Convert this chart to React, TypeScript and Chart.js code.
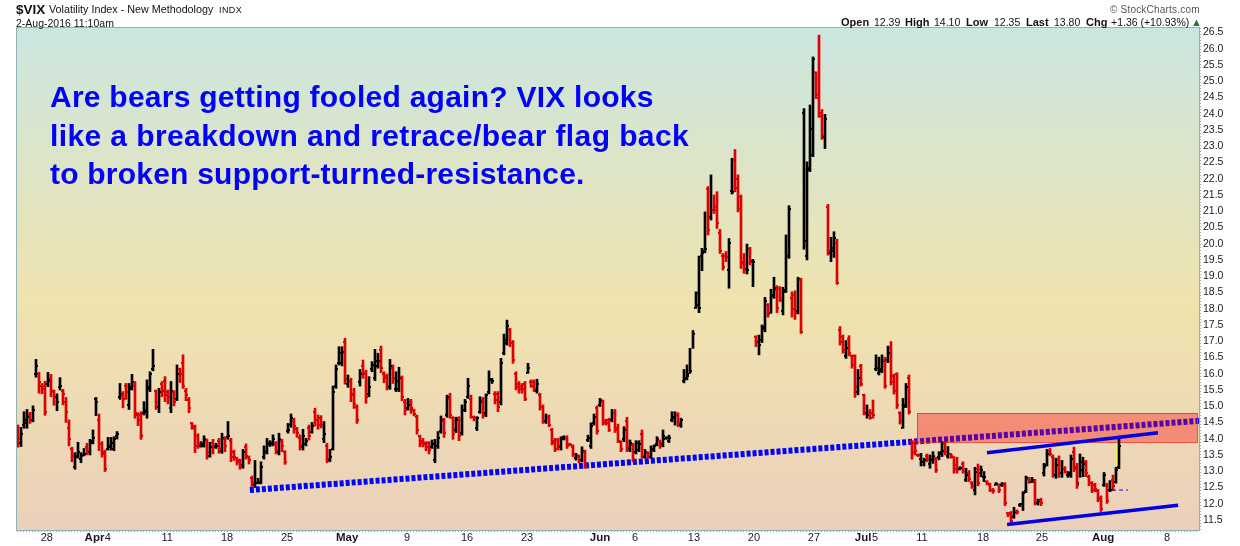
import React, { useEffect, useRef } from "react";
import { Chart, registerables } from "chart.js";

Chart.register(...registerables);

// Hourly-style OHLC bars of $VIX (about four bars per session).
const highs = [
14.39,14.32,14.80,14.87,14.78,14.98,16.41,16.01,15.67,15.74,
16.01,15.95,15.47,15.35,15.85,15.49,15.24,14.55,13.71,13.54,
13.86,13.54,13.67,13.83,13.95,14.24,15.24,14.73,13.88,13.62,
14.01,14.01,14.03,14.19,15.67,15.42,15.67,15.67,15.95,15.73,
14.77,14.80,15.11,15.78,16.03,16.72,15.47,15.52,15.73,15.88,
15.47,15.73,15.45,16.24,16.14,16.55,15.52,15.24,14.47,14.39,
14.12,13.88,14.06,13.96,13.86,13.95,13.83,13.98,14.14,14.03,
14.50,13.98,13.62,13.40,13.34,13.64,13.81,13.44,12.82,13.30,
12.75,13.26,13.75,13.98,13.91,14.09,13.88,14.14,13.95,13.60,
14.44,14.73,14.60,14.32,14.09,14.26,13.98,14.39,14.47,14.91,
14.70,14.68,14.50,13.83,13.64,15.59,16.24,16.80,16.80,17.06,
15.93,15.83,15.52,15.01,16.10,16.39,16.08,15.88,16.34,16.72,
16.60,16.82,16.03,15.96,16.41,16.24,16.03,16.17,15.90,15.18,
15.21,15.18,14.88,14.70,14.08,13.98,13.88,13.88,13.93,13.95,
14.19,14.67,14.60,15.31,15.37,14.65,14.63,14.65,15.01,15.18,
15.83,15.31,14.67,14.65,15.26,15.24,15.35,16.06,15.83,15.42,
15.42,16.44,17.19,17.62,17.37,16.99,16.03,15.73,15.67,15.73,
16.29,15.78,15.78,15.80,15.37,15.01,14.73,14.70,14.29,13.98,
13.98,14.03,14.06,14.06,13.83,13.78,13.52,13.47,13.72,13.62,
14.08,14.46,14.73,14.98,15.21,15.16,14.57,14.60,14.87,14.87,
14.42,13.91,14.34,14.63,13.93,13.83,13.91,13.91,14.24,13.64,
13.57,13.75,13.78,14.03,13.93,14.24,14.03,14.08,
14.80,14.80,14.77,14.60,16.10,16.24,16.75,17.30,18.49,19.59,
19.83,20.95,21.73,22.09,21.47,21.57,20.41,19.67,19.73,20.13,
22.60,22.87,22.09,21.47,19.67,19.96,19.86,19.49,17.14,17.16,
17.47,18.32,18.13,18.57,18.94,18.68,18.65,18.63,20.24,21.14,
18.49,18.52,18.94,18.91,24.13,22.49,24.24,25.72,25.26,26.39,
24.10,23.95,21.18,20.17,20.34,20.11,17.42,17.16,16.99,17.14,
16.55,16.55,16.10,16.26,15.34,15.01,14.87,15.16,16.55,16.48,
16.55,16.48,16.82,16.96,15.96,16.00,14.80,15.21,15.67,15.93,
13.91,13.93,13.50,13.52,13.37,13.50,13.47,13.57,13.40,13.57,
13.88,13.88,13.73,13.52,13.42,13.40,13.11,13.26,13.06,12.99,
12.65,13.09,13.19,13.13,12.96,12.68,12.60,12.44,12.62,12.58,
12.62,12.62,11.70,11.73,11.86,11.78,11.98,12.34,12.82,12.78,
12.78,12.72,12.11,12.14,13.21,13.64,13.67,13.47,13.37,13.44,
13.30,13.11,12.96,13.47,13.71,13.21,13.50,13.40,13.30,12.85,
12.65,12.60,12.41,12.21,12.93,12.60,12.68,12.85,13.09,14.05,
];

const lows = [
13.71,13.73,14.29,14.29,14.44,14.49,15.86,15.37,15.35,14.69,
15.57,15.26,15.00,14.83,15.47,15.01,14.47,13.75,13.26,13.03,
13.37,13.23,13.44,13.47,13.47,13.81,14.68,13.60,13.40,12.96,
13.62,13.62,13.60,13.96,15.18,14.92,15.18,14.87,15.47,14.60,
14.37,13.95,14.70,14.60,15.42,16.06,14.87,14.77,15.26,15.11,
15.04,14.77,14.98,15.14,15.70,15.52,15.14,14.77,14.26,13.54,
13.67,13.71,13.71,13.34,13.40,13.50,13.67,13.52,13.52,13.57,
13.95,13.26,13.30,13.16,13.03,13.06,13.34,13.19,12.50,12.47,
12.58,12.58,13.34,13.50,13.73,13.75,13.50,13.47,13.57,13.18,
14.14,14.32,14.14,14.01,13.62,13.62,13.75,13.93,14.14,14.36,
14.26,14.30,13.85,13.23,13.26,13.62,15.52,16.24,16.21,15.65,
15.55,15.11,14.90,14.44,15.59,15.83,15.06,15.26,16.03,15.76,
16.14,16.00,15.69,15.47,15.49,15.67,15.42,15.42,15.14,14.70,
14.85,14.75,14.67,14.11,13.72,13.72,13.60,13.50,13.67,13.23,
13.67,14.14,14.01,14.63,14.60,13.95,14.16,13.91,14.08,14.80,
15.21,14.60,14.52,14.22,14.75,14.60,14.65,15.35,15.67,15.04,
14.80,15.01,16.55,16.85,16.80,16.29,15.47,15.37,15.37,15.14,
15.98,15.55,15.42,15.37,14.85,14.44,14.44,14.34,13.78,13.57,
13.62,13.62,13.93,13.67,13.75,13.42,13.31,13.23,13.26,13.06,
13.88,13.67,14.39,14.11,14.96,14.39,14.39,14.19,14.49,14.16,
13.85,13.57,13.88,13.57,13.57,13.26,13.50,13.57,13.37,13.37,
13.37,13.37,13.57,13.75,13.67,13.72,13.95,13.85,
14.49,14.39,14.34,14.32,15.69,15.78,15.98,16.75,17.98,17.85,
19.14,19.69,20.24,20.70,20.90,20.44,19.67,19.16,19.42,18.60,
21.50,21.57,20.95,19.21,19.06,19.04,19.32,18.65,16.80,16.55,
16.93,17.26,17.71,17.83,18.29,17.85,18.19,17.78,18.47,19.52,
17.71,17.64,17.81,17.21,19.80,19.47,22.19,22.65,24.44,23.86,
23.18,22.90,19.62,19.42,19.55,18.72,16.85,16.60,16.44,16.52,
16.14,15.24,15.32,15.59,14.70,14.60,14.57,14.60,16.06,15.93,
16.00,15.52,16.31,15.62,15.34,14.90,14.42,14.29,14.93,14.73,
13.34,13.47,13.42,13.13,13.13,13.26,13.06,13.21,12.93,13.32,
13.42,13.47,13.37,13.37,12.91,12.91,13.01,12.91,12.65,12.65,
12.44,12.24,12.52,12.80,12.65,12.55,12.34,12.29,12.54,12.31,
12.50,11.91,11.57,11.39,11.52,11.65,11.88,11.76,12.31,12.60,
12.62,11.93,11.93,11.91,12.82,13.13,13.44,12.78,12.75,12.78,
12.78,12.91,12.78,12.78,12.96,12.44,12.78,12.80,12.80,12.52,
12.31,12.34,12.03,11.73,12.50,11.98,12.34,12.37,12.60,13.05,
];

const closes = [
13.95,14.10,14.55,14.65,14.52,14.85,16.20,15.70,15.50,14.80,
15.75,15.45,15.25,15.10,15.60,15.35,14.80,13.95,13.45,13.40,
13.55,13.45,13.50,13.60,13.85,14.00,15.10,13.80,13.50,13.05,
13.75,13.85,13.95,14.10,15.35,15.20,15.40,15.50,15.70,14.75,
14.55,14.05,14.85,15.55,15.95,16.20,15.10,15.40,15.45,15.30,
15.25,15.45,15.10,15.95,15.95,15.60,15.30,14.90,14.35,13.75,
13.80,13.80,13.95,13.55,13.70,13.75,13.75,13.65,14.00,13.75,
14.05,13.40,13.40,13.30,13.10,13.55,13.45,13.30,12.60,12.60,
12.65,13.10,13.60,13.85,13.85,13.95,13.60,13.95,13.75,13.25,
14.25,14.60,14.35,14.15,13.75,14.05,13.90,14.05,14.35,14.55,
14.40,14.40,14.10,13.35,13.40,15.40,16.10,16.60,16.65,15.80,
15.75,15.30,15.05,14.55,15.95,15.95,15.25,15.55,16.25,16.35,
16.35,16.15,15.85,15.60,16.20,15.85,15.75,15.85,15.25,14.85,
15.00,14.90,14.72,14.25,13.85,13.80,13.72,13.62,13.80,13.75,
14.00,14.55,14.15,15.25,14.70,14.10,14.55,14.05,14.85,15.10,
15.60,14.65,14.60,14.60,15.10,14.70,15.30,15.80,15.75,15.15,
14.95,16.30,17.00,17.45,16.90,16.40,15.55,15.50,15.50,15.20,
16.15,15.60,15.50,15.65,14.95,14.50,14.65,14.40,13.85,13.65,
13.75,13.95,14.00,13.75,13.78,13.50,13.45,13.30,13.60,13.10,
14.00,14.35,14.65,14.20,15.15,14.45,14.45,14.25,14.75,14.25,
13.90,13.65,14.25,13.70,13.85,13.35,13.85,13.80,13.45,13.55,
13.42,13.65,13.75,13.95,13.75,14.05,14.00,14.00,
14.65,14.70,14.45,14.55,15.80,15.95,16.05,17.20,18.45,18.00,
19.75,19.80,20.40,21.00,21.10,20.60,19.75,19.25,19.55,20.00,
21.55,21.70,21.05,19.35,19.15,19.15,19.40,19.40,16.95,16.85,
17.35,18.20,17.80,18.35,18.60,18.00,18.25,18.50,19.60,21.05,
17.95,17.85,18.90,17.25,20.05,22.25,23.50,25.65,24.55,24.00,
23.30,23.80,19.75,19.85,20.15,18.75,16.95,16.70,16.75,16.60,
16.25,15.55,15.85,15.65,14.75,14.70,14.62,14.70,16.15,16.05,
16.35,15.60,16.60,15.70,15.45,15.00,14.50,14.95,15.55,14.80,
13.55,13.60,13.48,13.25,13.30,13.35,13.35,13.45,13.00,13.50,
13.60,13.55,13.50,13.45,13.05,13.00,13.08,12.95,12.85,12.72,
12.50,12.95,12.60,13.00,12.80,12.60,12.40,12.35,12.58,12.40,
12.58,12.00,11.65,11.45,11.70,11.70,11.95,12.30,12.75,12.65,
12.70,12.00,12.05,12.00,13.10,13.50,13.50,12.85,13.15,12.90,
13.05,12.95,12.90,13.35,13.05,12.55,13.25,13.20,12.90,12.60,
12.40,12.42,12.10,11.80,12.85,12.05,12.40,12.50,13.00,13.75,
];

const opens = [
14.20,13.85,14.40,14.45,14.70,14.55,15.95,15.95,15.60,15.60,
15.65,15.80,15.40,15.25,15.55,15.45,15.10,14.30,13.65,13.10,
13.45,13.35,13.48,13.70,13.55,13.90,15.20,14.55,13.80,13.55,
13.65,13.70,13.65,14.05,15.25,15.30,15.60,15.00,15.55,15.60,
14.70,14.70,14.75,14.80,15.50,16.10,15.45,14.95,15.65,15.75,
15.40,14.90,15.40,15.20,16.10,16.30,15.45,15.15,14.45,14.30,
14.05,13.75,13.75,13.90,13.45,13.85,13.72,13.90,13.60,13.95,
14.02,13.90,13.55,13.38,13.25,13.15,13.70,13.40,12.75,12.55,
12.62,12.62,13.40,13.55,13.80,13.80,13.80,13.55,13.90,13.55,
14.20,14.38,14.50,14.28,14.00,13.70,13.80,14.30,14.18,14.80,
14.55,14.60,13.95,13.75,13.32,13.65,15.60,16.30,16.30,16.95,
15.65,15.75,15.35,14.95,15.70,16.20,16.00,15.35,16.10,15.85,
16.20,16.70,15.95,15.90,15.55,16.15,15.50,15.50,15.80,15.10,
14.90,15.10,14.85,14.65,14.05,13.90,13.85,13.85,13.72,13.30,
13.75,14.20,14.50,14.70,15.20,14.60,14.25,14.60,14.15,14.85,
15.25,15.20,14.65,14.30,14.80,15.15,14.75,15.40,15.78,15.35,
15.35,15.10,16.60,16.90,17.30,16.90,15.95,15.65,15.60,15.65,
16.00,15.72,15.70,15.45,15.30,14.95,14.50,14.65,14.25,13.90,
13.92,13.70,14.02,14.00,13.80,13.72,13.38,13.42,13.30,13.55,
13.92,13.75,14.45,14.90,15.00,15.10,14.52,14.55,14.55,14.75,
14.30,13.88,13.95,14.50,13.65,13.78,13.55,13.62,14.10,13.42,
13.52,13.42,13.62,13.80,13.90,13.80,13.97,13.90,
14.55,14.60,14.70,14.40,15.75,15.85,15.90,16.05,18.00,18.10,
19.60,19.70,21.65,20.80,21.00,21.00,20.30,19.60,19.60,19.15,
21.60,22.55,21.95,21.40,19.40,19.20,19.80,19.45,17.10,16.95,
17.00,17.40,18.10,17.85,18.40,18.55,18.60,17.90,18.55,19.60,
18.30,18.40,17.90,18.85,24.00,19.60,22.30,22.70,25.25,24.45,
23.90,23.25,21.10,19.70,19.75,20.00,17.30,17.10,16.50,17.05,
16.50,16.50,15.40,16.20,15.30,14.75,14.80,14.75,16.10,16.00,
16.10,16.40,16.40,16.75,15.90,15.95,14.75,14.30,15.00,15.85,
13.90,13.85,13.48,13.35,13.25,13.45,13.20,13.30,13.35,13.40,
13.55,13.80,13.45,13.50,13.40,13.15,13.05,13.20,12.70,12.92,
12.62,12.40,13.05,12.90,12.78,12.65,12.55,12.40,12.56,12.55,
12.55,12.55,11.68,11.68,11.55,11.75,11.92,11.95,12.35,12.72,
12.65,12.65,12.00,12.08,12.90,13.15,13.60,13.40,12.85,13.30,
12.90,13.05,12.85,12.85,13.55,13.10,12.60,13.00,13.25,12.80,
12.60,12.55,12.35,12.15,12.55,12.55,12.38,12.70,12.65,13.10,
];

// k = up bar (black), r = down bar (red)
const directions = (
"r k k k r k k r r r " + "k r r k k r r r r k " + "k k k r k k k r r r " + "k k k k k r r k k r " +
"r r k k k k r k r r " + "r k r k r r r r r r " + "r k k r k r k r k r " + "k r r r r k r r r k " +
"k k k k k k r k r r " + "k k r r r k k r k r " + "r r k r k k k k k r " + "k r r r k r r k k k " +
"k r r r k r k k r r " + "k r r r r r r r k k " + "k k r k r r k r k k " + "k r r k k r k k k r " +
"r k k k r r r r r r " + "k r r k r r k r r r " + "r k k r r r k r k r " + "k k k r k r r r k r " +
"r r k r k r k k r k " + "r k k k r k k k k k " + "r k k k k k k k k k " + "r k r r r r r k k r " +
"r r r k r k r k k k " + "r k k r r k k k r r " + "k r k k k k r r r k " + "r k k r r r k r r r " +
"k r r k r r k k k r " + "k r r r r k k r r r " + "r k k r k k r k k r " + "k r r r k r k r r k " +
"r k k r r r k r k r " + "r r k r k k k r k r " + "k r k k r r k r k r " + "k k r r k k r r r r " +
"r r k r k r k k"
).split(" ");

const yTicks = [
  11.5, 12, 12.5, 13, 13.5, 14, 14.5, 15, 15.5, 16, 16.5, 17, 17.5, 18, 18.5, 19, 19.5,
  20, 20.5, 21, 21.5, 22, 22.5, 23, 23.5, 24, 24.5, 25, 25.5, 26, 26.5,
];
const xTickLabels = ["28", "Apr", "4", "11", "18", "25", "May", "9", "16", "23", "Jun", "6", "13", "20", "27", "Jul", "5", "11", "18", "25", "Aug", "8"];
const xTickBars = [9.6, 25.5, 29.9, 49.7, 69.7, 89.7, 109.7, 129.7, 149.7, 169.7, 194, 205.7, 225.3, 245.3, 265.3, 281.7, 285.7, 301.3, 321.7, 341.3, 361.7, 383];
const monthLabels = ["Apr", "May", "Jun", "Jul", "Aug"];

// Drawn annotations, in chart units (bar number, VIX level)
const supportLine = [{ x: 77.3, y: 12.39 }, { x: 393.7, y: 14.52 }];
const flagTop = [{ x: 323, y: 13.54 }, { x: 380, y: 14.15 }];
const flagBottom = [{ x: 329.7, y: 11.33 }, { x: 386.7, y: 11.92 }];
const openMarker = [{ x: 364.7, y: 12.39 }, { x: 370, y: 12.39 }];
const todayRange = [{ x: 366.55, y: [13.07, 13.87] }];
const resistanceZone = { xMin: 299.7, xMax: 393, yMin: 13.87, yMax: 14.76 };

const RED = "#dd0000";
const AXIS = "#8fb2b6";
const FONT = '"Liberation Sans", Arial, sans-serif';

const scenePlugin = {
  id: "scene",
  beforeDraw(chart: any) {
    const { ctx, chartArea: a } = chart;
    const g = ctx.createLinearGradient(0, a.top, 0, a.bottom);
    g.addColorStop(0, "#cbe6e0");
    g.addColorStop(0.55, "#f0e3ae");
    g.addColorStop(1, "#ebd0bb");
    ctx.save();
    ctx.fillStyle = g;
    ctx.fillRect(a.left, a.top, a.right - a.left, a.bottom - a.top);
    ctx.restore();
  },
  beforeDatasetDraw(chart: any, args: any) {
    if (chart.data.datasets[args.index].label !== "range") return;
    const { ctx, scales } = chart;
    const x0 = scales.x.getPixelForValue(resistanceZone.xMin);
    const x1 = scales.x.getPixelForValue(resistanceZone.xMax);
    const y0 = scales.y.getPixelForValue(resistanceZone.yMax);
    const y1 = scales.y.getPixelForValue(resistanceZone.yMin);
    ctx.save();
    ctx.fillStyle = "rgba(255,0,0,0.35)";
    ctx.fillRect(x0, y0, x1 - x0, y1 - y0);
    ctx.strokeStyle = "rgba(235,50,35,0.8)";
    ctx.lineWidth = 1;
    ctx.strokeRect(Math.round(x0) + 0.5, Math.round(y0) + 0.5, Math.round(x1 - x0), Math.round(y1 - y0));
    ctx.restore();
  },
  afterDatasetDraw(chart: any, args: any) {
    if (chart.data.datasets[args.index].label !== "range") return;
    const { ctx, scales } = chart;
    ctx.save();
    highs.forEach((_, i) => {
      const px = Math.round(scales.x.getPixelForValue(i));
      ctx.fillStyle = directions[i] === "k" ? "#000000" : RED;
      ctx.fillRect(px - 2, Math.round(scales.y.getPixelForValue(opens[i])) - 1, 1, 2);
      ctx.fillRect(px + 1, Math.round(scales.y.getPixelForValue(closes[i])) - 1, 1, 2);
    });
    ctx.restore();
  },
  afterDraw(chart: any) {
    const { ctx, chartArea: a } = chart;
    ctx.save();
    ctx.strokeStyle = AXIS;
    ctx.lineWidth = 1;
    ctx.strokeRect(a.left - 0.5, a.top - 0.5, a.right - a.left + 1, a.bottom - a.top + 1);
    ctx.setLineDash([1, 2]);
    ctx.beginPath();
    ctx.moveTo(a.left, a.bottom + 1.5);
    ctx.lineTo(a.right, a.bottom + 1.5);
    ctx.moveTo(a.right + 1.5, a.top);
    ctx.lineTo(a.right + 1.5, a.bottom);
    ctx.stroke();
    ctx.restore();
  },
};

type Label = { text: string; left: number; top: number; size: number; bold?: boolean; color?: string; spacing?: number };

const titleLabels: Label[] = [
  { text: "$VIX", left: 16, top: 3, size: 13.5, bold: true },
  { text: "Volatility Index - New Methodology", left: 49, top: 3, size: 10.75 },
  { text: "INDX", left: 219, top: 4, size: 9, spacing: 0.4 },
  { text: "2-Aug-2016 11:10am", left: 16, top: 17, size: 10.5 },
  { text: "© StockCharts.com", left: 1110, top: 3, size: 10, color: "#555555", spacing: 0.2 },
  { text: "Open", left: 841, top: 16, size: 11, bold: true },
  { text: "12.39", left: 874, top: 16, size: 10.5 },
  { text: "High", left: 905, top: 16, size: 11, bold: true },
  { text: "14.10", left: 934, top: 16, size: 10.5 },
  { text: "Low", left: 966, top: 16, size: 11, bold: true },
  { text: "12.35", left: 994, top: 16, size: 10.5 },
  { text: "Last", left: 1026, top: 16, size: 11, bold: true },
  { text: "13.80", left: 1054, top: 16, size: 10.5 },
  { text: "Chg", left: 1086, top: 16, size: 11, bold: true },
  { text: "+1.36 (+10.93%)", left: 1111, top: 16, size: 10.5 },
  { text: "▲", left: 1191, top: 16, size: 11, color: "#1f7a3a" },
];

const noteLines = [
  "Are bears getting fooled again? VIX looks",
  "like a breakdown and retrace/bear flag back",
  "to broken support-turned-resistance.",
];
const noteTops = [77, 116, 154];
const noteSpacing = [0.25, 0.4, 0.22];

export default function App() {
  const ref = useRef<HTMLCanvasElement | null>(null);

  useEffect(() => {
    const chart = new Chart(ref.current as HTMLCanvasElement, {
      type: "bar",
      data: {
        datasets: [
          {
            type: "line",
            label: "support",
            data: supportLine,
            borderColor: "#0000ff",
            borderWidth: 6,
            borderDash: [4, 2],
            pointRadius: 0,
            order: 10,
          },
          {
            type: "bar",
            label: "today",
            data: todayRange,
            backgroundColor: "#ffff33",
            barThickness: 2,
            grouped: false,
            order: 6,
          },
          {
            type: "bar",
            label: "range",
            data: highs.map((h, i) => ({ x: i, y: [lows[i], h] })),
            backgroundColor: directions.map((d) => (d === "k" ? "#000000" : RED)),
            barThickness: 2,
            grouped: false,
            order: 5,
          },
          { type: "line", label: "flagTop", data: flagTop, borderColor: "#0000e6", borderWidth: 3.5, pointRadius: 0, order: 1 },
          { type: "line", label: "flagBottom", data: flagBottom, borderColor: "#0000e6", borderWidth: 3.5, pointRadius: 0, order: 1 },
          { type: "line", label: "openMarker", data: openMarker, borderColor: "#0000ff", borderWidth: 1, borderDash: [4, 3], pointRadius: 0, order: 1 },
        ] as any,
      },
      options: {
        responsive: false,
        animation: false,
        events: [],
        devicePixelRatio: 1,
        layout: { padding: { left: 17, top: 28, right: 0, bottom: 0 } },
        plugins: { legend: { display: false }, tooltip: { enabled: false } },
        scales: {
          x: {
            type: "linear",
            min: -1 / 3,
            max: 393.67,
            offset: false,
            grid: { display: false, drawTicks: false },
            border: { display: false },
            afterBuildTicks(scale: any) {
              scale.ticks = xTickBars.map((value) => ({ value }));
            },
            afterFit(scale: any) {
              scale.height = 16;
            },
            ticks: {
              autoSkip: false,
              maxRotation: 0,
              minRotation: 0,
              padding: 1,
              color: "#1a1a1a",
              callback: (_v: any, i: number) => xTickLabels[i],
              font: (c: any) => {
                const isMonth = monthLabels.includes(xTickLabels[c.index]);
                return { family: FONT, size: isMonth ? 11.5 : 11, weight: isMonth ? "bold" : "normal" };
              },
            },
          },
          y: {
            type: "linear",
            position: "right",
            min: 11.16,
            max: 26.61,
            grid: { display: false, drawTicks: false },
            border: { display: false },
            afterBuildTicks(scale: any) {
              scale.ticks = yTicks.map((value) => ({ value }));
            },
            afterFit(scale: any) {
              scale.width = 41;
            },
            ticks: {
              autoSkip: false,
              padding: 4,
              labelOffset: 1,
              color: "#1a1a1a",
              font: { family: FONT, size: 10.5 },
              callback: (v: any) => Number(v).toFixed(1),
            },
          },
        },
      } as any,
      plugins: [scenePlugin],
    } as any);
    return () => chart.destroy();
  }, []);

  return (
    <div style={{ position: "fixed", left: 0, top: 0, width: 1240, height: 546, background: "#ffffff", overflow: "hidden", fontFamily: FONT }}>
      <canvas ref={ref} width={1240} height={546} style={{ display: "block", width: 1240, height: 546 }} />
      {titleLabels.map((l) => (
        <div
          key={l.text + l.left}
          style={{
            position: "absolute",
            left: l.left,
            top: l.top,
            fontSize: l.size,
            fontWeight: l.bold ? 700 : 400,
            color: l.color ?? "#111111",
            letterSpacing: l.spacing ?? 0,
            lineHeight: "13px",
            whiteSpace: "nowrap",
          }}
        >
          {l.text}
        </div>
      ))}
      {noteLines.map((t, i) => (
        <div
          key={t}
          style={{
            position: "absolute",
            left: 50,
            top: noteTops[i],
            fontSize: 30,
            fontWeight: 700,
            lineHeight: "39px",
            letterSpacing: noteSpacing[i],
            color: "#0000ff",
            whiteSpace: "nowrap",
          }}
        >
          {t}
        </div>
      ))}
    </div>
  );
}
